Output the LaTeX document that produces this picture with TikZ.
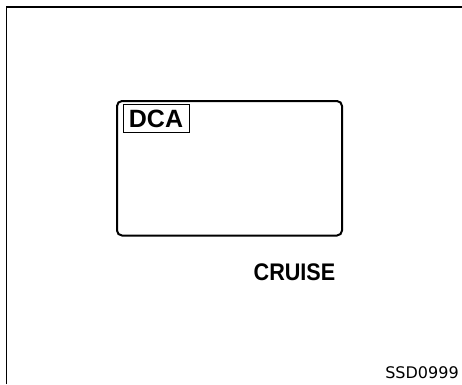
\documentclass[tikz,border=0pt]{standalone}
\usepackage{fontspec}
\setmainfont{Liberation Sans}
\newfontfamily\codefont{DejaVu Sans}
\begin{document}
\begin{tikzpicture}[x=1pt, y=-1pt]
    \useasboundingbox (0,0) rectangle (462,384);
    % frame
    \draw[line width=1.8pt] (6.5,384) -- (6.5,7) -- (462,7);

    % display
    \draw[line width=2pt, rounded corners=5pt] (117,101) rectangle (342,235.5);
    \draw[line width=0.9pt] (123,104) rectangle (189,132);
    \node[inner sep=0pt] (dca) at (156,119) {\bfseries\fontsize{25}{25}\selectfont DCA};

    \node[inner sep=0pt] (cruise) at (294.5,272) {\scalebox{0.9}[1]{\bfseries\fontsize{24}{24}\selectfont CRUISE}};
    \node[inner sep=0pt] (code) at (422,372.5) {\codefont\fontsize{16}{16}\selectfont SSD0999};
\end{tikzpicture}
\end{document}
